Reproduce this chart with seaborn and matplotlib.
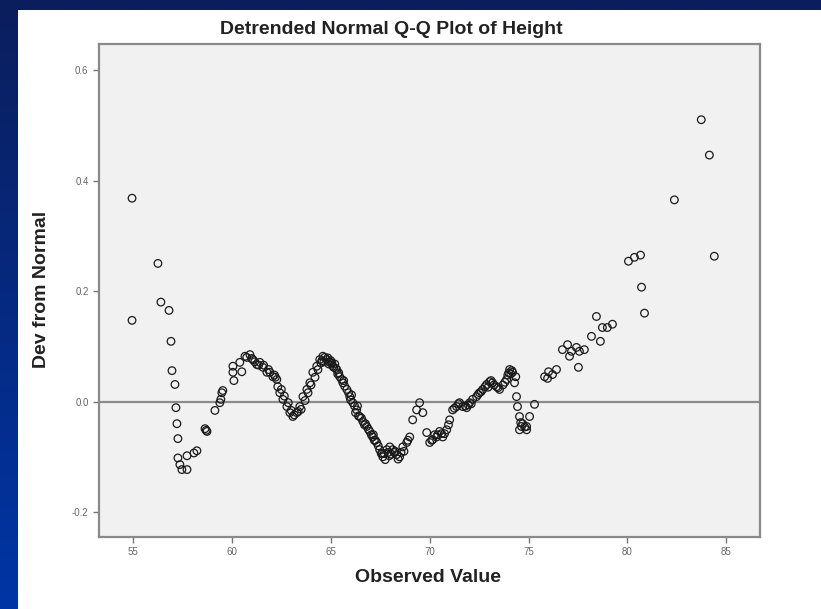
import numpy as np
import pandas as pd
import matplotlib
matplotlib.use("Agg")
import matplotlib.pyplot as plt
from matplotlib.patches import Rectangle
import seaborn as sns

# Observed heights and their deviations from the normal line
observed = [
    54.95, 54.95, 56.26, 56.41, 56.82, 56.92, 56.97, 57.12, 57.17, 57.22,
    57.27, 57.27, 57.37, 57.47, 57.73, 57.73, 58.08, 58.23, 58.64, 58.74,
    58.70, 59.14, 59.39, 59.49, 59.44, 59.54,
    60.05, 60.05, 60.10, 60.40, 60.50, 60.66, 60.91, 61.06, 61.26, 61.41,
    61.57, 61.77, 61.92, 62.07, 62.27, 62.32, 62.42, 62.58, 62.78, 62.93,
    63.08, 63.28, 63.43, 63.59, 63.79, 63.94, 64.09, 64.29, 64.44, 64.60,
    64.80, 64.95, 65.10, 65.30, 65.45, 65.61, 65.81, 65.96, 66.11, 66.31,
    66.46, 66.62, 66.82, 66.97, 67.12, 67.32, 67.47, 67.63, 67.83, 67.98,
    68.13, 68.33, 68.48, 68.64, 68.84, 68.99, 69.14, 69.34, 69.49, 69.65,
    69.85, 70.00, 70.15, 70.35, 70.50, 70.66, 70.86, 71.01, 71.16, 71.36,
    71.51, 71.67, 71.87, 72.02, 72.17, 72.37, 72.52, 72.68, 72.88, 73.03,
    73.18, 73.38, 73.53, 73.89, 74.04, 74.19, 74.29, 74.39, 74.44, 74.54,
    74.64, 74.90, 74.54, 74.90, 75.05, 75.30,
    60.75, 61.15, 61.60, 62.15, 62.50, 62.85, 63.15, 63.50, 63.85, 64.20,
    64.50, 64.70, 65.00, 65.20, 65.55, 65.90, 66.20, 66.55, 66.90, 67.20,
    67.55, 67.75, 68.05, 68.40, 68.70, 70.25, 70.75, 71.25, 71.95, 72.45,
    72.80, 73.10, 73.70, 74.10, 74.70,
    61.00, 61.35, 61.85, 62.20, 62.65, 63.00, 63.35, 63.70, 64.00, 64.35,
    64.55, 64.85, 65.05, 65.25, 65.40, 65.70, 66.00, 66.25, 66.40, 66.70,
    67.05, 67.25, 67.40, 67.70, 67.90, 68.20, 68.55, 68.90, 70.10, 70.40,
    70.60, 70.95, 71.45, 71.80, 72.10, 72.60, 72.95, 73.25, 73.95, 74.15,
    74.35, 74.60, 74.80, 64.65, 64.90, 65.15, 65.35, 65.65, 66.05, 66.35,
    66.75, 67.15, 67.60, 67.95, 68.25, 73.45, 73.80, 74.00,
    75.81, 76.01, 76.21, 75.96, 76.41, 76.71, 76.97, 77.17, 77.07, 77.42,
    77.57, 77.82, 77.52, 78.18, 78.43, 78.63, 78.73, 78.98, 79.24,
    80.05, 80.35, 80.66, 80.71, 80.86, 82.37, 83.73, 84.14, 84.39,
]
deviation = [
    0.368, 0.147, 0.250, 0.180, 0.165, 0.109, 0.056, 0.031, -0.011, -0.040,
    -0.067, -0.102, -0.114, -0.123, -0.123, -0.098, -0.093, -0.089, -0.049, -0.054,
    -0.052, -0.016, -0.002, 0.016, 0.004, 0.020,
    0.064, 0.053, 0.038, 0.071, 0.054, 0.082, 0.085, 0.076, 0.067, 0.071,
    0.062, 0.053, 0.053, 0.045, 0.040, 0.027, 0.016, 0.004, -0.009, -0.020,
    -0.027, -0.020, -0.009, 0.009, 0.022, 0.034, 0.053, 0.064, 0.076, 0.082,
    0.076, 0.071, 0.064, 0.058, 0.045, 0.034, 0.022, 0.009, -0.002, -0.015,
    -0.027, -0.036, -0.045, -0.054, -0.064, -0.074, -0.087, -0.100, -0.087, -0.082,
    -0.087, -0.096, -0.100, -0.082, -0.074, -0.064, -0.033, -0.015, -0.002, -0.020,
    -0.056, -0.074, -0.069, -0.064, -0.054, -0.064, -0.051, -0.033, -0.015, -0.009,
    -0.002, -0.009, -0.011, -0.002, 0.004, 0.009, 0.016, 0.022, 0.031, 0.036,
    0.034, 0.027, 0.022, 0.040, 0.058, 0.053, 0.034, 0.009, -0.009, -0.027,
    -0.045, -0.045, -0.051, -0.051, -0.027, -0.005,
    0.080, 0.072, 0.066, 0.048, 0.022, -0.002, -0.024, -0.014, 0.016, 0.044,
    0.070, 0.080, 0.074, 0.068, 0.040, 0.016, -0.008, -0.030, -0.050, -0.070,
    -0.094, -0.105, -0.095, -0.104, -0.090, -0.060, -0.058, -0.012, -0.006, 0.013,
    0.027, 0.038, 0.030, 0.050, -0.040,
    0.078, 0.066, 0.058, 0.044, 0.010, -0.016, -0.018, 0.002, 0.030, 0.058,
    0.074, 0.079, 0.070, 0.060, 0.052, 0.028, 0.003, -0.020, -0.026, -0.042,
    -0.060, -0.070, -0.080, -0.094, -0.092, -0.092, -0.092, -0.070, -0.070, -0.060,
    -0.058, -0.042, -0.004, -0.008, -0.004, 0.018, 0.026, 0.030, 0.048, 0.056,
    0.045, -0.038, -0.046, 0.072, 0.068, 0.062, 0.050, 0.038, 0.012, -0.008,
    -0.040, -0.060, -0.094, -0.098, -0.090, 0.025, 0.035, 0.052,
    0.045, 0.054, 0.049, 0.042, 0.058, 0.094, 0.103, 0.091, 0.082, 0.098,
    0.091, 0.094, 0.062, 0.118, 0.154, 0.109, 0.134, 0.134, 0.140,
    0.254, 0.261, 0.265, 0.207, 0.160, 0.365, 0.510, 0.446, 0.263,
]
x_ticks = [55, 60, 65, 70, 75, 80, 85]
y_ticks = [-0.2, 0.0, 0.2, 0.4, 0.6]

df = pd.DataFrame({"Observed Value": observed, "Dev from Normal": deviation})

sns.set_style("white")
plt.rcParams["font.family"] = ["Liberation Sans Narrow", "Liberation Sans", "DejaVu Sans"]

W, H = 821, 609
fig = plt.figure(figsize=(W / 100, H / 100), dpi=100)

# slide backdrop: blue gradient with a white panel
bg = fig.add_axes([0, 0, 1, 1], zorder=-10)
grad = np.linspace(0, 1, 256).reshape(-1, 1)
top_c = np.array([0x0b, 0x1e, 0x5c]) / 255
bot_c = np.array([0x00, 0x35, 0xa5]) / 255
img = top_c[None, None, :] * (1 - grad[..., None]) + bot_c[None, None, :] * grad[..., None]
bg.imshow(img, aspect="auto", extent=[0, 1, 0, 1], origin="upper")
bg.add_patch(Rectangle((18 / W, 0), 1 - 18 / W, 1 - 10 / H, color="white", lw=0))
bg.set_xlim(0, 1)
bg.set_ylim(0, 1)
bg.axis("off")

ax = fig.add_axes([99 / W, 1 - 537 / H, (760 - 99) / W, (537 - 44) / H])
ax.set_facecolor("#f1f1f1")

ax.axhline(0, color="#8c8c8c", lw=1.6, zorder=1)
sns.scatterplot(data=df, x="Observed Value", y="Dev from Normal", ax=ax,
                marker="o", s=30, facecolor="none", edgecolor="#1a1a1a",
                linewidth=0.9, zorder=3)

ax.set_xlim(53.28, 86.7)
ax.set_ylim(-0.245, 0.647)
ax.set_xticks(x_ticks)
ax.set_xticklabels([str(t) for t in x_ticks])
ax.set_yticks(y_ticks)
ax.set_yticklabels([f"{t:.1f}" for t in y_ticks])
ax.tick_params(axis="both", direction="out", length=4, width=1, color="#777777",
               labelsize=7, labelcolor="#666666", bottom=True, left=True)
for s in ax.spines.values():
    s.set_color("#8a8a8a")
    s.set_linewidth(1.6)
ax.set_xlabel("")
ax.set_ylabel("")

fig.text(391 / W, 1 - 30 / H, "Detrended Normal Q-Q Plot of Height", ha="center", va="center",
         fontsize=14, fontweight="bold", color="#222222")
fig.text(428 / W, 1 - 578 / H, "Observed Value", ha="center", va="center",
         fontsize=14, fontweight="bold", color="#222222")
fig.text(42 / W, 1 - 289 / H, "Dev from Normal", ha="center", va="center", rotation=90,
         fontsize=14, fontweight="bold", color="#222222")

fig.savefig("out.png", dpi=100)
